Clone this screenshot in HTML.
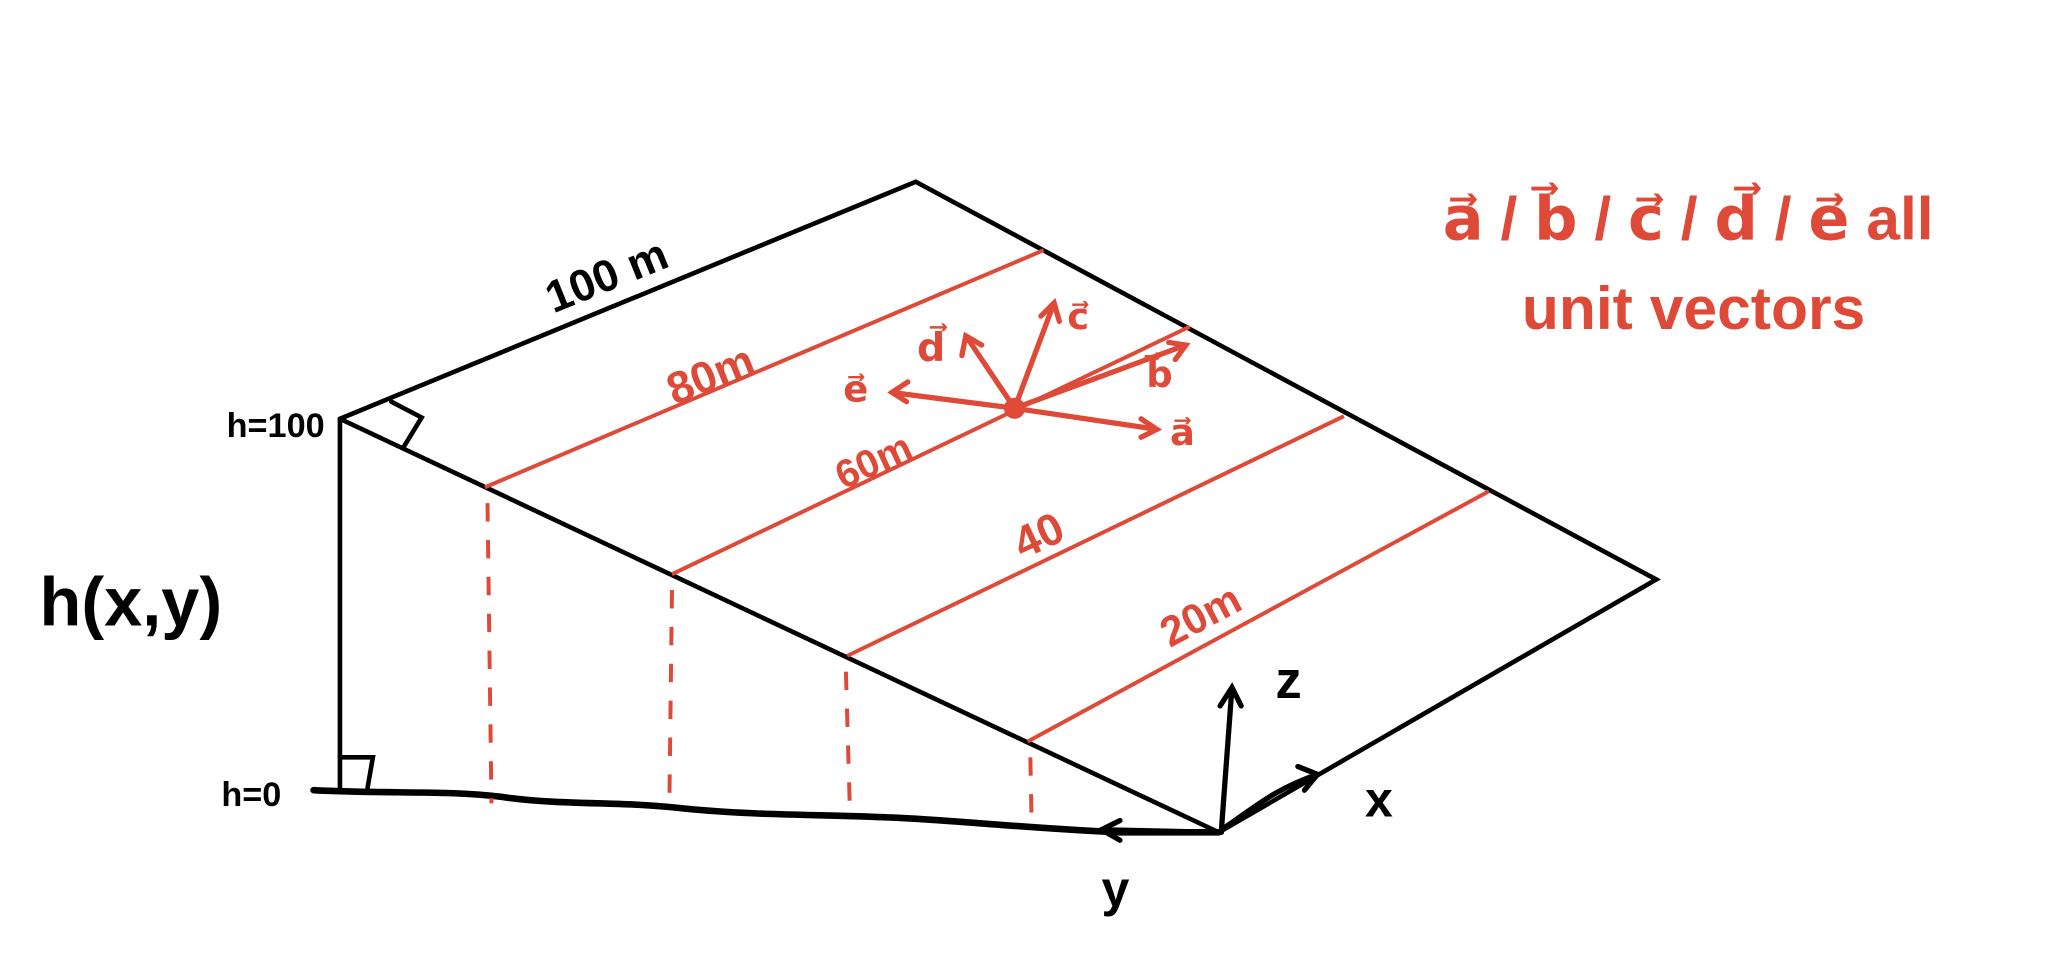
<!DOCTYPE html>
<html><head><meta charset="utf-8"><style>
html,body{margin:0;padding:0;background:#fff;}
svg{display:block;}
text{font-family:"Liberation Sans",sans-serif;}
</style></head><body>
<svg width="2066" height="968" viewBox="0 0 1568 735" preserveAspectRatio="none" xmlns="http://www.w3.org/2000/svg">
<rect width="1568" height="735" fill="#fff"/>
<g stroke="#000" stroke-width="3.5" fill="none" stroke-linecap="round">
<polyline points="258,318 695,138 1257,440 925,632"/>
<line x1="258" y1="318" x2="925" y2="632"/>
<line x1="258" y1="318" x2="258" y2="598"/>
<path d="M238,600 C300,603 340,600 380,605 C430,612 470,608 520,614 C580,620 640,618 700,622 C760,626 800,630 850,632 L925,632" stroke-width="5"/>
<polyline points="258,575 283,575 279,598"/>
<polyline points="297,305 320,317 306,340"/>
</g>
<g stroke="#de4a37" stroke-width="3" fill="none">
<line x1="368" y1="370" x2="792" y2="190"/>
<line x1="510" y1="436" x2="903" y2="248"/>
<line x1="643" y1="498" x2="1020" y2="316"/>
<line x1="780" y1="563" x2="1130" y2="373"/>
<g stroke-dasharray="14,14">
<line x1="370" y1="382" x2="373" y2="610"/>
<line x1="510" y1="448" x2="508" y2="612"/>
<line x1="642" y1="510" x2="645" y2="614"/>
<line x1="782" y1="575" x2="783" y2="628"/>
</g>
</g>
<g stroke="#de4a37" stroke-width="4" fill="none" stroke-linecap="round">
<circle cx="770" cy="310" r="6" fill="#de4a37"/>
<line x1="770" y1="310" x2="878" y2="326"/><polyline points="866,318 878,326 866,332"/>
<line x1="770" y1="310" x2="900" y2="262"/><polyline points="887,260 900,262 892,273"/>
<line x1="770" y1="310" x2="800" y2="230"/><polyline points="790,240 800,230 804,244"/>
<line x1="770" y1="310" x2="733" y2="255"/><polyline points="730,270 733,255 745,262"/>
<line x1="770" y1="310" x2="677" y2="298"/><polyline points="689,290 677,298 688,305"/>
</g>
<g stroke="#000" stroke-width="4" fill="none" stroke-linecap="round">
<line x1="927" y1="630" x2="935" y2="522"/><polyline points="926,536 935,522 942,536"/>
<path d="M927,630 C950,615 965,600 1000,588"/><polyline points="985,582 1000,588 990,600"/>
<line x1="927" y1="632" x2="836" y2="630"/><polyline points="850,623 836,630 850,638"/>
</g>
<g fill="#000" font-weight="bold">
<text x="420" y="238" font-size="34" transform="rotate(-22 420 238)">100 m</text>
<text x="172" y="332" font-size="26">h=100</text>
<text x="168" y="612" font-size="26">h=0</text>
<text x="30" y="475" font-size="52">h(x,y)</text>
<text x="968" y="530" font-size="40">z</text>
<text x="1036" y="620" font-size="38">x</text>
<text x="836" y="688" font-size="38">y</text>
</g>
<g fill="#de4a37" font-weight="bold">
<text x="512" y="308" font-size="34" transform="rotate(-22 512 308)">80m</text>
<text x="640" y="372" font-size="30" transform="rotate(-25 640 372)">60m</text>
<text x="776" y="425" font-size="34" transform="rotate(-25 776 425)">40</text>
<text x="888" y="492" font-size="32" transform="rotate(-28 888 492)">20m</text>
<text x="888" y="338" font-size="28">a⃗</text>
<text x="870" y="294" font-size="28">b⃗</text>
<text x="810" y="250" font-size="28">c⃗</text>
<text x="696" y="274" font-size="30">d⃗</text>
<text x="640" y="305" font-size="28">e⃗</text>
<text x="1095" y="182" font-size="46">a⃗ / b⃗ / c⃗ / d⃗ / e⃗  all</text>
<text x="1155" y="250" font-size="46">unit vectors</text>
</g>
</svg>
</body></html>
